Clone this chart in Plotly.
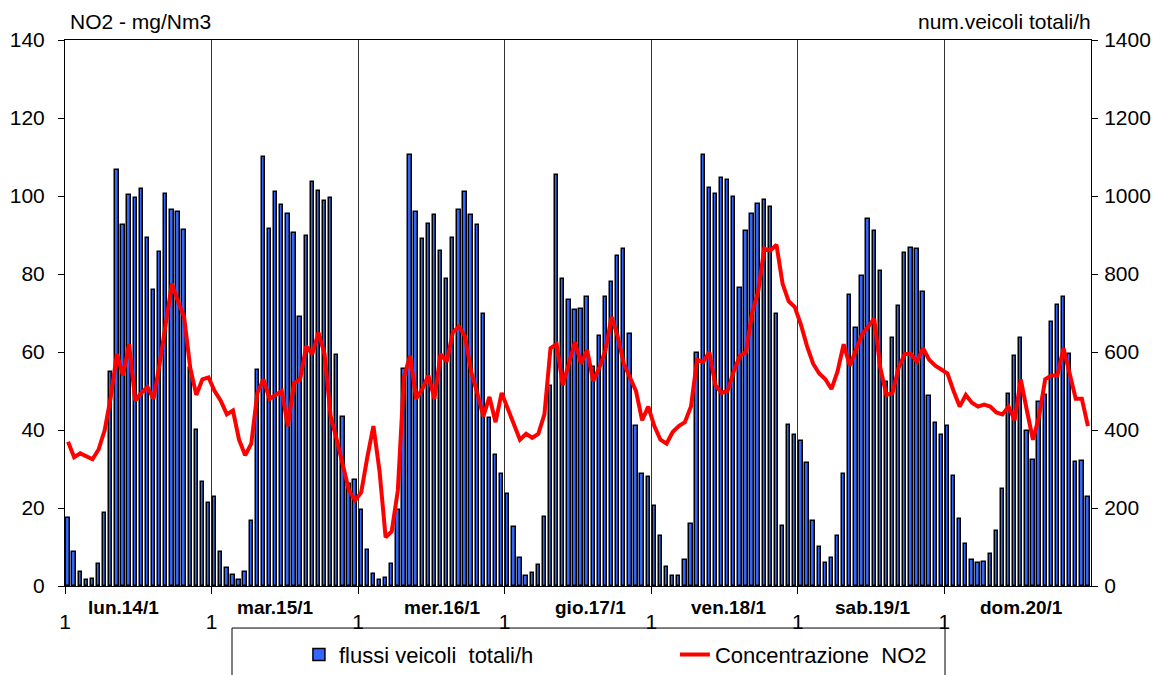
import plotly.graph_objects as go

# day labels and hour tick label
days = ["lun.14/1", "mar.15/1", "mer.16/1", "gio.17/1", "ven.18/1", "sab.19/1", "dom.20/1"]
day_label_pos = [9.1, 33.9, 61.3, 85.6, 108.2, 131.8, 156.1]  # in hour units, as placed in the original
hour_tick = "1"

# vehicles per hour (right axis), 24 values per day
veicoli_lun = [174, 88, 35, 15, 19, 57, 186, 549, 1066, 926, 1002, 995, 1018, 892, 758, 856, 1006, 964, 958, 913, 560, 401, 266, 212]
veicoli_mar = [229, 86, 47, 28, 15, 37, 166, 553, 1101, 916, 1010, 976, 954, 905, 691, 898, 1036, 1012, 987, 994, 592, 433, 262, 272]
veicoli_mer = [195, 93, 32, 15, 20, 56, 195, 556, 1105, 958, 890, 928, 952, 858, 788, 892, 965, 1010, 952, 925, 698, 432, 335, 287]
veicoli_gio = [236, 152, 73, 25, 34, 53, 176, 514, 1055, 788, 734, 708, 710, 740, 561, 641, 742, 780, 847, 864, 645, 409, 288, 280]
veicoli_ven = [206, 129, 49, 25, 26, 67, 159, 598, 1105, 1021, 1006, 1047, 1040, 997, 764, 909, 954, 980, 990, 972, 698, 154, 414, 386]
veicoli_sab = [373, 316, 167, 99, 60, 73, 129, 286, 745, 661, 794, 940, 911, 807, 522, 637, 719, 854, 867, 864, 753, 487, 418, 388]
veicoli_dom = [409, 283, 172, 107, 66, 58, 62, 82, 140, 249, 492, 590, 637, 397, 322, 472, 489, 678, 721, 742, 594, 317, 320, 227]

# NO2 concentration (left axis)
no2_lun = [37, 33, 34, 33.3, 32.5, 35, 40, 48.5, 59.5, 54, 62, 47.5, 49.5, 51, 48, 57, 67, 77.5, 73, 69, 56, 49, 53, 53.5]
no2_mar = [50, 47.5, 44, 45, 37.5, 33.5, 36.5, 49.5, 53, 48, 49, 50, 41, 52, 53, 61.5, 59.5, 65, 59.5, 43.5, 37.5, 31.5, 24.5, 22]
no2_mer = [24, 33, 41, 29.5, 12.5, 14, 24.5, 53.5, 59, 48, 50.5, 54, 48, 59.5, 57.5, 65, 66.5, 64, 55, 49.5, 43.5, 48.5, 42, 49.5]
no2_gio = [45.5, 41, 37.5, 39, 38, 39, 44, 61, 62, 51.5, 57.5, 62.5, 57, 60.5, 52.5, 56, 60.5, 69, 64, 57, 53.5, 50, 42.5, 46]
no2_ven = [41, 37.5, 36.5, 39.5, 41, 42, 46, 58, 57.5, 60, 51.5, 49.5, 50, 55, 59, 60, 70, 75.5, 86.5, 86, 87.5, 77.5, 73, 71.5]
no2_sab = [67, 61.5, 57, 54.5, 53, 50.5, 55, 62, 56.5, 60.5, 64.5, 66.5, 68.5, 56, 49, 49.5, 56, 59.5, 59.5, 57.5, 61, 58, 56.5, 55.5]
no2_dom = [54.5, 50, 46, 49, 47, 46, 46.5, 46, 44.5, 44, 46, 42.5, 53, 45, 37.5, 43.5, 53, 54, 54, 61, 55, 48, 48, 41]

veicoli = veicoli_lun + veicoli_mar + veicoli_mer + veicoli_gio + veicoli_ven + veicoli_sab + veicoli_dom
no2 = no2_lun + no2_mar + no2_mer + no2_gio + no2_ven + no2_sab + no2_dom
hours = list(range(len(veicoli)))

FONT = "Liberation Sans, Arial, sans-serif"

fig = go.Figure()

# bars on the primary (right) axis so the line on the overlay is drawn on top
fig.add_trace(go.Bar(
    name="flussi veicoli  totali/h",
    x=hours,
    y=veicoli,
    width=0.55,
    marker=dict(color="#3366ff", line=dict(color="black", width=1.5)),
    yaxis="y",
))

fig.add_trace(go.Scatter(
    name="Concentrazione  NO2",
    x=hours,
    y=no2,
    mode="lines",
    line=dict(color="#ff0000", width=4),
    yaxis="y2",
))

boundaries = [24 * i - 0.5 for i in range(len(days))]

fig.update_layout(
    width=1160,
    height=675,
    plot_bgcolor="white",
    paper_bgcolor="white",
    # page body adds 8px on left/top
    margin=dict(l=57, r=77, t=32, b=97),
    font=dict(family=FONT, size=21, color="black"),
    bargap=0,
    showlegend=True,
    xaxis=dict(
        range=[-0.5, len(hours) - 0.5],
        tickvals=boundaries,
        ticktext=[hour_tick] * len(boundaries),
        ticks="outside",
        ticklen=7,
        tickcolor="black",
        ticklabelstandoff=10,
        tickfont=dict(size=21),
        showgrid=True,
        gridcolor="#333333",
        gridwidth=1,
        showline=True,
        linecolor="black",
        mirror=True,
        zeroline=False,
        automargin=False,
    ),
    yaxis=dict(
        side="right",
        range=[0, 1400],
        dtick=200,
        ticks="outside",
        ticklen=6,
        tickcolor="black",
        ticklabelstandoff=2,
        showline=True,
        linecolor="black",
        showgrid=False,
        zeroline=False,
        automargin=False,
    ),
    yaxis2=dict(
        overlaying="y",
        side="left",
        range=[0, 140],
        dtick=20,
        ticks="outside",
        ticklen=6,
        tickcolor="black",
        ticklabelstandoff=9,
        showline=True,
        linecolor="black",
        showgrid=False,
        zeroline=False,
        automargin=False,
    ),
    legend=dict(
        orientation="h",
        x=0.228,
        xanchor="left",
        yref="container",
        y=0.073,
        yanchor="top",
        borderwidth=0,
        bgcolor="rgba(0,0,0,0)",
        font=dict(size=22),
        entrywidth=331,
        entrywidthmode="pixels",
    ),
)

# legend frame, running off the bottom of the picture like the original
fig.add_shape(
    type="rect", xref="paper", yref="paper",
    x0=(232 - 65) / 1026, x1=(945 - 65) / 1026,
    y0=-0.25, y1=-0.077,
    line=dict(color="black", width=1), fillcolor="rgba(0,0,0,0)",
)

# day labels under each block of 24 hours
for d, pos in zip(days, day_label_pos):
    fig.add_annotation(
        x=pos, y=-0.04, xref="x", yref="paper",
        text="<b>" + d + "</b>", showarrow=False,
        font=dict(size=19),
        xanchor="center", yanchor="middle",
    )

# axis titles above the plot
fig.add_annotation(
    x=0, y=1.0, xref="paper", yref="paper", xshift=3, yshift=5,
    text="NO2 - mg/Nm3", showarrow=False,
    xanchor="left", yanchor="bottom", font=dict(size=21),
)
fig.add_annotation(
    x=1, y=1.0, xref="paper", yref="paper", xshift=2, yshift=5,
    text="num.veicoli totali/h", showarrow=False,
    xanchor="right", yanchor="bottom", font=dict(size=21),
)

fig.write_html("out.html")
